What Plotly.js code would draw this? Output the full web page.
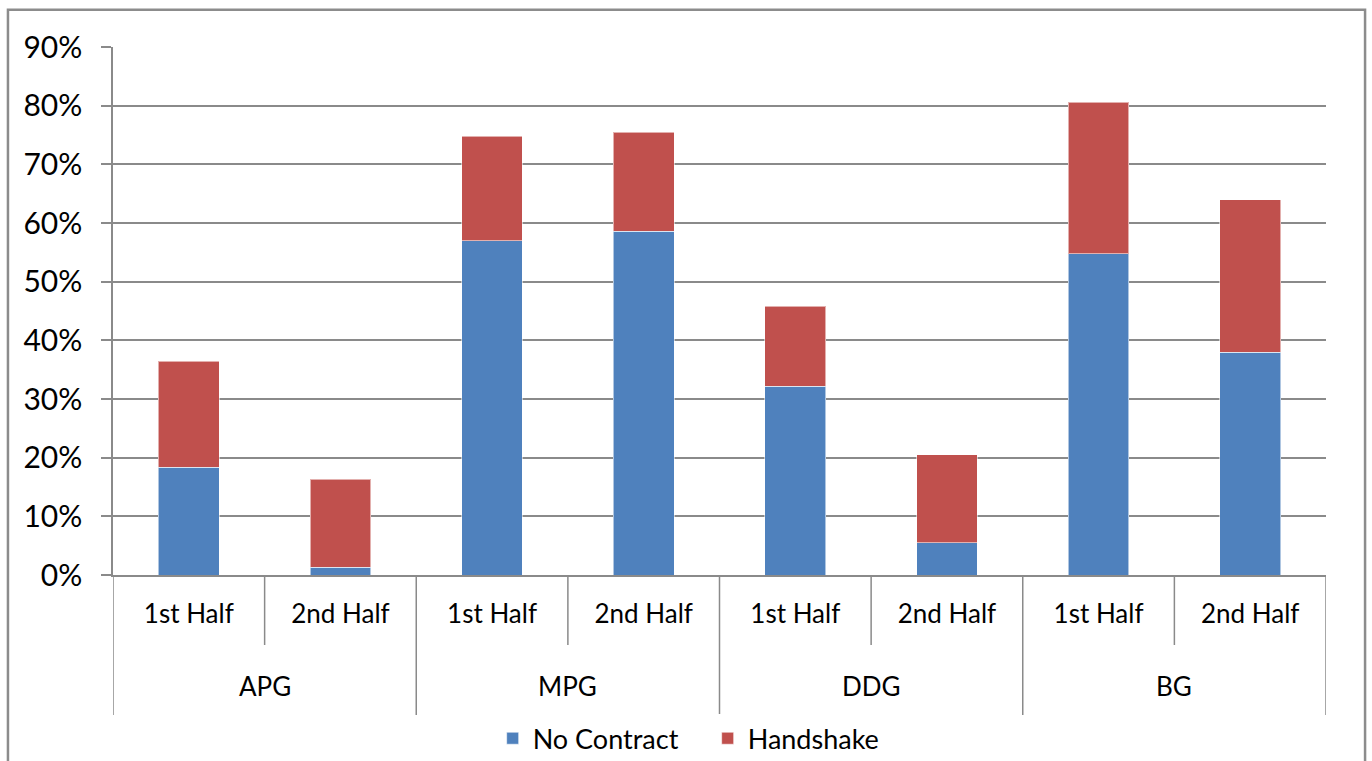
<!DOCTYPE html>
<html>
<head>
<meta charset="utf-8">
<script src="https://cdn.plot.ly/plotly-3.0.1.min.js"></script>
<style>
  html, body { margin: 0; padding: 0; background: #ffffff; }
  #chart { width: 1372px; height: 761px; }
</style>
</head>
<body>
<div id="chart"></div>
<script>
// Contract type shares by group and half-year
const groups = ['APG', 'MPG', 'DDG', 'BG'];
const halves = ['1st Half', '2nd Half'];
const noContract = [0.184, 0.013, 0.570, 0.586, 0.322, 0.055, 0.548, 0.380];
const handshake  = [0.180, 0.150, 0.178, 0.169, 0.136, 0.150, 0.258, 0.260];
const yTicks = [0, 0.1, 0.2, 0.3, 0.4, 0.5, 0.6, 0.7, 0.8, 0.9];

const FONT = 'Lato, "Open Sans", sans-serif';
const GRID = '#8a8a8a';

// one slot per group/half pair
const positions = [];
const halfLabels = [];
groups.forEach((g, gi) => halves.forEach((h, hi) => {
  positions.push(gi * halves.length + hi);
  halfLabels.push(h);
}));

const barLine = { color: 'rgba(255,255,255,0.55)', width: 1 };
const traces = [
  { type: 'bar', name: 'No Contract', x: positions, y: noContract,
    marker: { color: '#4F81BD', line: barLine }, hoverinfo: 'y+name' },
  { type: 'bar', name: 'Handshake', x: positions, y: handshake,
    marker: { color: '#C0504D', line: barLine }, hoverinfo: 'y+name' }
];

// category dividers under the axis
const shapes = [];
const n = positions.length;
for (let i = 0; i <= n; i++) {
  const isGroupEdge = i % halves.length === 0;
  shapes.push({
    type: 'line', xref: 'x', yref: 'paper',
    x0: i - 0.5, x1: i - 0.5, y0: 0, y1: isGroupEdge ? -0.265 : -0.1326,
    line: { color: GRID, width: 1.5 }
  });
}
// outer chart frame
shapes.push({
  type: 'rect', xref: 'paper', yref: 'paper',
  x0: -0.0866, x1: 1.0322, y0: -0.5, y1: 1.0705,
  line: { color: '#8c8c8c', width: 2.5 }, fillcolor: 'rgba(0,0,0,0)'
});

// group names on the second row
const annotations = groups.map((g, gi) => ({
  xref: 'x', yref: 'paper',
  x: gi * halves.length + (halves.length - 1) / 2, y: -0.21,
  text: g, showarrow: false, yanchor: 'middle', xanchor: 'center',
  font: { family: FONT, size: 26, color: '#000000' }
}));

const layout = {
  width: 1372, height: 761,
  margin: { l: 113, r: 46, t: 47, b: 186, autoexpand: false },
  paper_bgcolor: '#ffffff', plot_bgcolor: '#ffffff',
  barmode: 'stack', bargap: 0.6,
  font: { family: FONT, color: '#000000' },
  showlegend: true,
  legend: {
    orientation: 'h', x: 0.313, xanchor: 'left', y: -0.31, yanchor: 'middle',
    entrywidth: 170,
    font: { family: FONT, size: 27, color: '#000000' },
    traceorder: 'normal', itemclick: false
  },
  xaxis: {
    type: 'linear', range: [-0.5, n - 0.5],
    tickvals: positions, ticktext: halfLabels,
    showgrid: false, zeroline: false,
    showline: true, linecolor: GRID, linewidth: 1.5,
    ticks: '', ticklabelstandoff: 15,
    tickfont: { family: FONT, size: 26, color: '#000000' },
    fixedrange: true
  },
  yaxis: {
    range: [0, 0.9], tickvals: yTicks, tickformat: '.0%',
    showgrid: true, gridcolor: GRID, gridwidth: 1.5,
    zeroline: false, showline: true, linecolor: GRID, linewidth: 1.5,
    ticks: 'outside', ticklen: 10, tickcolor: GRID, tickwidth: 1.5,
    ticklabelstandoff: 13,
    tickfont: { family: FONT, size: 30, color: '#000000' },
    fixedrange: true
  },
  shapes: shapes,
  annotations: annotations
};

Plotly.newPlot('chart', traces, layout, { displayModeBar: false, responsive: false });
</script>
</body>
</html>
